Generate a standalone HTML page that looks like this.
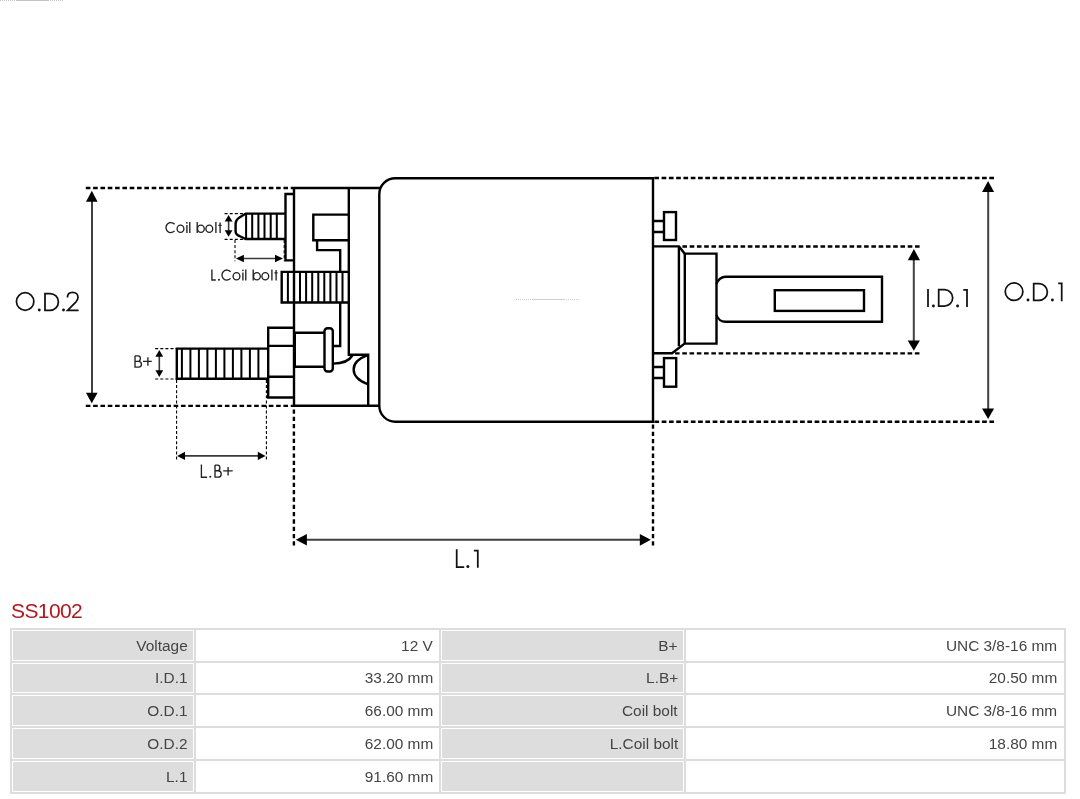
<!DOCTYPE html>
<html>
<head>
<meta charset="utf-8">
<style>
html,body{margin:0;padding:0;background:#fff;}
body{width:1080px;height:799px;overflow:hidden;position:relative;font-family:"Liberation Sans",sans-serif;}
#dia{position:absolute;left:0;top:0;}
h2{position:absolute;left:11px;top:599px;will-change:transform;margin:0;font-weight:normal;font-size:21px;letter-spacing:-0.6px;line-height:24px;color:#b9141d;font-family:"Liberation Sans",sans-serif;}
table{position:absolute;left:10px;top:628px;width:1056px;border-collapse:separate;border-spacing:2px;background:#dddddd;table-layout:fixed;font-size:14px;color:#444;will-change:transform;}
td{border:1px solid #fff;padding:0 5.5px 0 6px;height:31px;line-height:16px;text-align:right;white-space:nowrap;box-sizing:border-box;}
td.l{background:#dddddd;}
tr.r2 td{height:30px;}
td span{display:inline-block;transform:scaleX(1.1);transform-origin:100% 50%;}
td.v{background:#fff;}
</style>
</head>
<body>
<svg id="dia" width="1080" height="595" viewBox="0 0 1080 595">
<!-- faint artifact lines -->
<g stroke="#c4c4c4" stroke-width="1" fill="none">
<path d="M0 0.5H16M48 0.5H64" stroke-dasharray="1 1"/>
<path d="M16 0.5H48"/>
<path d="M516 299.5H532M564 299.5H580" stroke-dasharray="1 1" stroke="#d0d0d0"/>
<path d="M532 299.5H564" stroke="#d0d0d0"/>
</g>

<!-- main outlines -->
<g stroke="#000" stroke-width="2.4" fill="none" stroke-linejoin="miter">
<!-- body -->
<path d="M395.3 178.2H653V421.7H395.3A16 16 0 0 1 379.3 405.7V194.2A16 16 0 0 1 395.3 178.2Z"/>
<!-- end cap -->
<path d="M291 188H380"/>
<path d="M294 188V405.7H379"/>
<path d="M348.8 188V354.8H368.2V405.7"/>
<path d="M348.8 214.6H313.3V240.3H348.8"/>
<path d="M317.1 240.3V250.1H340.2V272"/>
<path d="M340.2 302.5V346H333"/>
<path d="M367.6 355.2C349 362 349 377 367.6 384.2"/>
<path d="M333.2 363.6Q347.5 363.6 352.8 355"/>
<!-- coil bolt plate -->
<path d="M294 194H285.5V260.4H294"/>
<!-- coil bolt -->
<path d="M285.5 213.6H245.7L239.5 217.4Q235.6 219.8 235.6 224V231.2Q235.6 234.6 239.5 236L245.7 239H285.5"/>
<!-- L coil bolt -->
<path d="M348.8 271.9H281.7V302.5H348.8"/>
<!-- B+ bolt -->
<path d="M268.2 348.6H176.8V378.8H268.2"/>
<!-- nut -->
<path d="M294 327.7H268.2V397.5H294M268.2 345.9H294M268.2 376.8H294"/>
<!-- terminal cylinder -->
<path d="M294 332.7H324M294 366.7H324"/>
<path d="M295.4 332.7V366.7" stroke-width="1.2"/>
<rect x="324.5" y="328.2" width="8.3" height="43.3" rx="3"/>
<!-- stubs -->
<path d="M653 221H664M653 232H664"/>
<rect x="664" y="212.1" width="12" height="27.9"/>
<path d="M653 367H664M653 378H664"/>
<rect x="664" y="358.1" width="12.2" height="28.6"/>
<!-- plunger flange -->
<path d="M653 246.4H679L684.6 253.6H716.5V343.6H684.6L672 353.2H653"/>
<path d="M678.9 246.4V346.3M684.8 253.6V343.6"/>
<!-- rod -->
<path d="M716.5 284A9.5 9.5 0 0 1 726 276.8H882V321.8H726A9.5 9.5 0 0 1 716.5 315"/>
<rect x="774.8" y="290.2" width="89.2" height="20.7"/>
</g>

<!-- threads -->
<g stroke="#000" stroke-width="2" fill="none">
<path d="M246.1 213.6V239M252.2 213.6V239M258.4 213.6V239M264.5 213.6V239M270.7 213.6V239M276.8 213.6V239"/>
<path d="M287.9 271.9V302.5M294 271.9V302.5M300 271.9V302.5M306.1 271.9V302.5M312.2 271.9V302.5M318.3 271.9V302.5M324.3 271.9V302.5M330.4 271.9V302.5M336.5 271.9V302.5M342.5 271.9V302.5"/>
<path d="M181.9 348.6V378.8M190.4 348.6V378.8M198.9 348.6V378.8M207.4 348.6V378.8M215.9 348.6V378.8M224.4 348.6V378.8M232.9 348.6V378.8M241.4 348.6V378.8M249.9 348.6V378.8M258.4 348.6V378.8"/>
</g>

<!-- thick dashed dimension lines -->
<g stroke="#000" stroke-width="2.4" fill="none" stroke-dasharray="4.6 2.72">
<path d="M85.8 188H291"/>
<path d="M85.8 405.9H294"/>
<path d="M654.3 178.1H994" stroke-width="2.5" stroke-dasharray="4.7 2.583"/>
<path d="M654.4 421.8H994" stroke-width="2.5" stroke-dasharray="4.7 2.583"/>
<path d="M682.4 246.5H920" stroke-dasharray="4.6 2.668"/>
<path d="M675 353.4H920" stroke-dasharray="4.6 2.668"/>
<path d="M293.9 409.4V545.5" stroke-dasharray="4.3 3.03"/>
<path d="M653 424.4V545.5" stroke-dasharray="4.3 3.0"/>
</g>

<!-- thin dashed lines -->
<g stroke="#000" stroke-width="1.1" fill="none" stroke-dasharray="3 2.1">
<path d="M176.6 380V459.4M266.4 380V459.4"/>
<path d="M155.2 348.6H176.8M155.2 379H176.8"/>
<path d="M224.6 213.6H245.7M224.6 239.4H245.7"/>
<path d="M235 240V261.3M284.2 240V261.3"/>
</g>

<!-- arrow shafts -->
<g stroke="#404040" stroke-width="2" fill="none">
<path d="M92 200V394"/>
<path d="M988.2 191V410"/>
<path d="M913.8 258V342"/>
<path d="M305 539.8H641"/>
</g>
<g stroke="#3a3a3a" stroke-width="1.6" fill="none">
<path d="M184 455.9H259"/>
<path d="M159.3 355V372"/>
<path d="M228.6 220V231.5"/>
<path d="M243 258.5H276"/>
</g>
<!-- arrow heads -->
<g fill="#000" stroke="none">
<path d="M91.8 190.8L97.6 201.8H86Z"/>
<path d="M91.8 403.3L97.6 392.7H85.9Z"/>
<path d="M988.1 180.9L994.1 192.1H982.1Z"/>
<path d="M988.1 419.1L994.1 408.4H982Z"/>
<path d="M913.9 249L920 260.3H907.8Z"/>
<path d="M913.8 350.8L919.9 340.4H907.7Z"/>
<path d="M295.8 539.8L306.9 533.9V545.6Z"/>
<path d="M650.8 539.8L639.8 533.9V545.7Z"/>
<path d="M177.2 455.9L185 451.7V460.1Z"/>
<path d="M265.6 455.9L257.8 451.7V460.1Z"/>
<path d="M159.3 350L163.2 356.8H155.4Z"/>
<path d="M159.3 377L163.2 370.3H155.4Z"/>
<path d="M228.6 214.9L232.5 221.4H224.7Z"/>
<path d="M228.6 236.8L232.5 230.3H224.7Z"/>
<path d="M236 258.5L243.9 254.8V262.2Z"/>
<path d="M283 258.5L275 254.8V262.2Z"/>
</g>

<!-- big labels drawn as strokes -->
<g stroke="#111" stroke-width="1.75" fill="none" stroke-linecap="butt">
<!-- O.D.2 -->
<ellipse cx="25.15" cy="301.5" rx="8.7" ry="8.8"/>
<path d="M45 293.5H50A8.4 8.45 0 0 1 50 310.4H45Z"/>
<path d="M67.4 297.5C67.4 294.3 69.5 292.3 72.6 292.3C75.8 292.3 78 294.5 78 297.3C78 299 77.3 300.3 76 301.8L67.6 310.3H78.6"/>
<!-- O.D.1 -->
<ellipse cx="1014.05" cy="291.65" rx="8.8" ry="8.7"/>
<path d="M1033.7 283.6H1039A8.4 8.4 0 0 1 1039 300.4H1033.7Z"/>
<path d="M1058.2 283.3H1061.7V301.2"/>
<!-- I.D.1 -->
<path d="M928 288.9V307"/>
<path d="M938.7 289.6H944.5A8.2 8.25 0 0 1 944.5 306.1H938.7Z"/>
<path d="M963.3 289.9H967V307.1"/>
<!-- L.1 -->
<path d="M456.7 549.2V567.1H464.2"/>
<path d="M473.9 550.5H477.8V567.8"/>
</g>
<g fill="#111">
<circle cx="39.3" cy="310" r="1.45"/>
<circle cx="63.5" cy="310" r="1.45"/>
<circle cx="1028" cy="300" r="1.45"/>
<circle cx="1052.4" cy="300" r="1.45"/>
<circle cx="933.4" cy="306" r="1.45"/>
<circle cx="957.6" cy="306" r="1.45"/>
<circle cx="467.9" cy="566.4" r="1.5"/>
</g>

<!-- small labels (geometric glyphs) -->
<g stroke="#222" stroke-width="1.35" fill="none">
<g>
<path d="M174.6 224.2A4.95 5 0 1 0 174.6 230.9"/>
<ellipse cx="180.5" cy="228.75" rx="3.4" ry="3.65"/>
<path d="M186.9 225V233M189.8 222.1V233M197.2 222.1V233M215.9 222.1V233M220.1 222.4V233M218.4 225.4H221.6"/>
<ellipse cx="200.9" cy="228.75" rx="3.4" ry="3.65"/>
<ellipse cx="209.3" cy="228.75" rx="3.4" ry="3.65"/>
</g>
<g transform="translate(56 47.5)">
<path d="M174.6 224.2A4.95 5 0 1 0 174.6 230.9"/>
<ellipse cx="180.5" cy="228.75" rx="3.4" ry="3.65"/>
<path d="M186.9 225V233M189.8 222.1V233M197.2 222.1V233M215.9 222.1V233M220.1 222.4V233M218.4 225.4H221.6"/>
<ellipse cx="200.9" cy="228.75" rx="3.4" ry="3.65"/>
<ellipse cx="209.3" cy="228.75" rx="3.4" ry="3.65"/>
</g>
<path d="M211.9 269.6V280H215.8"/>
<path d="M135 355.8H138.3A2.1 2.75 0 0 1 138.3 361.3H135M135 361.3H138.5A2.9 2.9 0 0 1 138.5 367.1H135V355.8"/>
<path d="M143 361.4H151.8M147.9 357.3V365.8"/>
<path d="M201.4 464.4V477.2H207.1"/>
<path d="M215 465.1H217.6A2.3 2.8 0 0 1 217.6 470.7H215M215 470.7H218A3.2 3.2 0 0 1 218 477.1H215V465.1"/>
<path d="M223.2 470.9H232.7M228.1 467V475.6"/>
</g>
<g fill="#222">
<circle cx="186.9" cy="222.8" r="0.85"/>
<circle cx="242.9" cy="270.3" r="0.85"/>
<circle cx="218.9" cy="279.7" r="1.05"/>
<circle cx="210.3" cy="476.8" r="1.05"/>
</g>
</svg>

<h2>SS1002</h2>
<table>
<colgroup><col style="width:182px"><col style="width:243.3px"><col style="width:243.2px"><col style="width:377.5px"></colgroup>
<tr><td class="l"><span>Voltage</span></td><td class="v"><span>12 V</span></td><td class="l"><span>B+</span></td><td class="v"><span>UNC 3/8-16 mm</span></td></tr>
<tr class="r2"><td class="l"><span>I.D.1</span></td><td class="v"><span>33.20 mm</span></td><td class="l"><span>L.B+</span></td><td class="v"><span>20.50 mm</span></td></tr>
<tr><td class="l"><span>O.D.1</span></td><td class="v"><span>66.00 mm</span></td><td class="l"><span>Coil bolt</span></td><td class="v"><span>UNC 3/8-16 mm</span></td></tr>
<tr><td class="l"><span>O.D.2</span></td><td class="v"><span>62.00 mm</span></td><td class="l"><span>L.Coil bolt</span></td><td class="v"><span>18.80 mm</span></td></tr>
<tr><td class="l"><span>L.1</span></td><td class="v"><span>91.60 mm</span></td><td class="l"></td><td class="v"></td></tr>
</table>
</body>
</html>
